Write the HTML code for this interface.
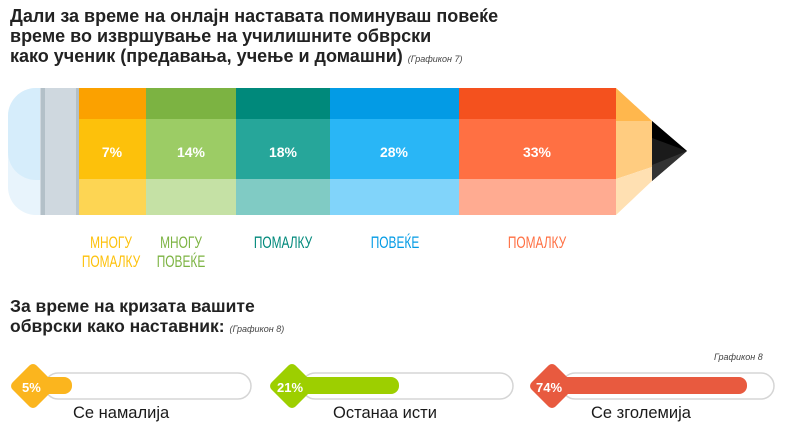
<!DOCTYPE html>
<html><head><meta charset="utf-8"><style>
body{margin:0;width:800px;height:442px;background:#fff;position:relative;overflow:hidden;font-family:"Liberation Sans",sans-serif}
.t{position:absolute;left:10px;font-weight:bold;color:#222;line-height:20px;white-space:nowrap}
.s{font-size:9px;font-style:italic;font-weight:normal;color:#444}
.a{position:absolute;font-family:"Liberation Sans",sans-serif;font-size:16.5px;color:#1a1a1a;white-space:nowrap}
.lb{position:absolute;font-family:"Liberation Sans Narrow","Liberation Sans",sans-serif;font-size:17px;text-align:center;line-height:19px;transform:scaleX(.7)}
</style></head><body>
<div class="t" style="top:6px;font-size:18px">Дали за време на онлајн наставата поминуваш повеќе<br>време во извршување на училишните обврски<br>како ученик (предавања, учење и домашни) <span class="s">(Графикон 7)</span></div>
<svg style="position:absolute;left:0;top:0" width="800" height="442">
<rect x="8" y="88" width="60" height="127" rx="28" fill="#e8f4fc"/>
<rect x="8" y="88" width="60" height="92" rx="28" fill="#d6edfb"/>
<rect x="40" y="88" width="40" height="127" fill="#cfd8df"/>
<rect x="41" y="88" width="4" height="127" fill="#b3c0c8"/>
<rect x="76" y="88" width="3" height="127" fill="#b3c0c8"/>
<g>
<rect x="79" y="88" width="67" height="31" fill="#fba100"/><rect x="79" y="119" width="67" height="60" fill="#fdc10b"/><rect x="79" y="179" width="67" height="36" fill="#fdd553"/>
<rect x="146" y="88" width="90" height="31" fill="#7cb342"/><rect x="146" y="119" width="90" height="60" fill="#9ccc65"/><rect x="146" y="179" width="90" height="36" fill="#c5e1a5"/>
<rect x="236" y="88" width="94" height="31" fill="#00897b"/><rect x="236" y="119" width="94" height="60" fill="#26a69a"/><rect x="236" y="179" width="94" height="36" fill="#80cbc4"/>
<rect x="330" y="88" width="129" height="31" fill="#039be5"/><rect x="330" y="119" width="129" height="60" fill="#29b6f6"/><rect x="330" y="179" width="129" height="36" fill="#81d4fa"/>
<rect x="459" y="88" width="157" height="31" fill="#f4511e"/><rect x="459" y="119" width="157" height="60" fill="#ff7043"/><rect x="459" y="179" width="157" height="36" fill="#ffab91"/>
</g>
<polygon points="616,88 652,121 616,121" fill="#ffb74d"/>
<polygon points="616,121 652,121 652,167 616,179" fill="#ffcc80"/>
<polygon points="616,179 652,167 652,181 616,215" fill="#ffe0b2"/>
<polygon points="652,121 687,151 652,181" fill="#1b1b1b"/>
<polygon points="652,121 687,151 652,138" fill="#000"/>
<polygon points="652,165 687,151 652,181" fill="#333"/>
<g font-family="Liberation Sans" font-weight="bold" font-size="14" fill="#fff" text-anchor="middle">
<text x="112" y="157">7%</text><text x="191" y="157">14%</text><text x="283" y="157">18%</text><text x="394" y="157">28%</text><text x="537" y="157">33%</text>
</g>
<g font-family="Liberation Sans" font-weight="bold" font-size="14" fill="#fff">
<g fill="#fbb51e"><rect x="45" y="373" width="206" height="26" rx="13" fill="#fff" stroke="#d5d5d5" stroke-width="1.5"/><rect x="30" y="377" width="42" height="17" rx="8"/><rect x="16" y="369" width="34" height="34" rx="5" transform="rotate(45 33 386)"/></g>
<text x="22" y="392" font-size="13">5%</text>
<g fill="#9dcf00"><rect x="302" y="373" width="211" height="26" rx="13" fill="#fff" stroke="#d5d5d5" stroke-width="1.5"/><rect x="290" y="377" width="109" height="17" rx="8"/><rect x="275" y="369" width="34" height="34" rx="5" transform="rotate(45 292 386)"/></g>
<text x="277" y="392" font-size="13">21%</text>
<g fill="#e85a3f"><rect x="562" y="373" width="212" height="26" rx="13" fill="#fff" stroke="#d5d5d5" stroke-width="1.5"/><rect x="550" y="377" width="197" height="17" rx="8"/><rect x="535" y="369" width="34" height="34" rx="5" transform="rotate(45 552 386)"/></g>
<text x="536" y="392" font-size="13">74%</text>
</g>
</svg>
<div class="lb" style="left:66px;top:233px;width:90px;color:#fdc10b">МНОГУ<br>ПОМАЛКУ</div>
<div class="lb" style="left:146px;top:233px;width:70px;color:#7cb342">МНОГУ<br>ПОВЕЌЕ</div>
<div class="lb" style="left:238px;top:233px;width:90px;color:#00897b">ПОМАЛКУ</div>
<div class="lb" style="left:350px;top:233px;width:90px;color:#039be5">ПОВЕЌЕ</div>
<div class="lb" style="left:492px;top:233px;width:90px;color:#ff7043">ПОМАЛКУ</div>
<div class="t" style="top:296px;font-size:17.5px">За време на кризата вашите<br>обврски како наставник: <span class="s">(Графикон 8)</span></div>
<div class="s" style="position:absolute;left:714px;top:352px;font-size:9px">Графикон 8</div>
<div class="a" style="left:73px;top:404px">Се намалија</div>
<div class="a" style="left:333px;top:404px">Останаа исти</div>
<div class="a" style="left:591px;top:404px">Се зголемија</div>
</body></html>
